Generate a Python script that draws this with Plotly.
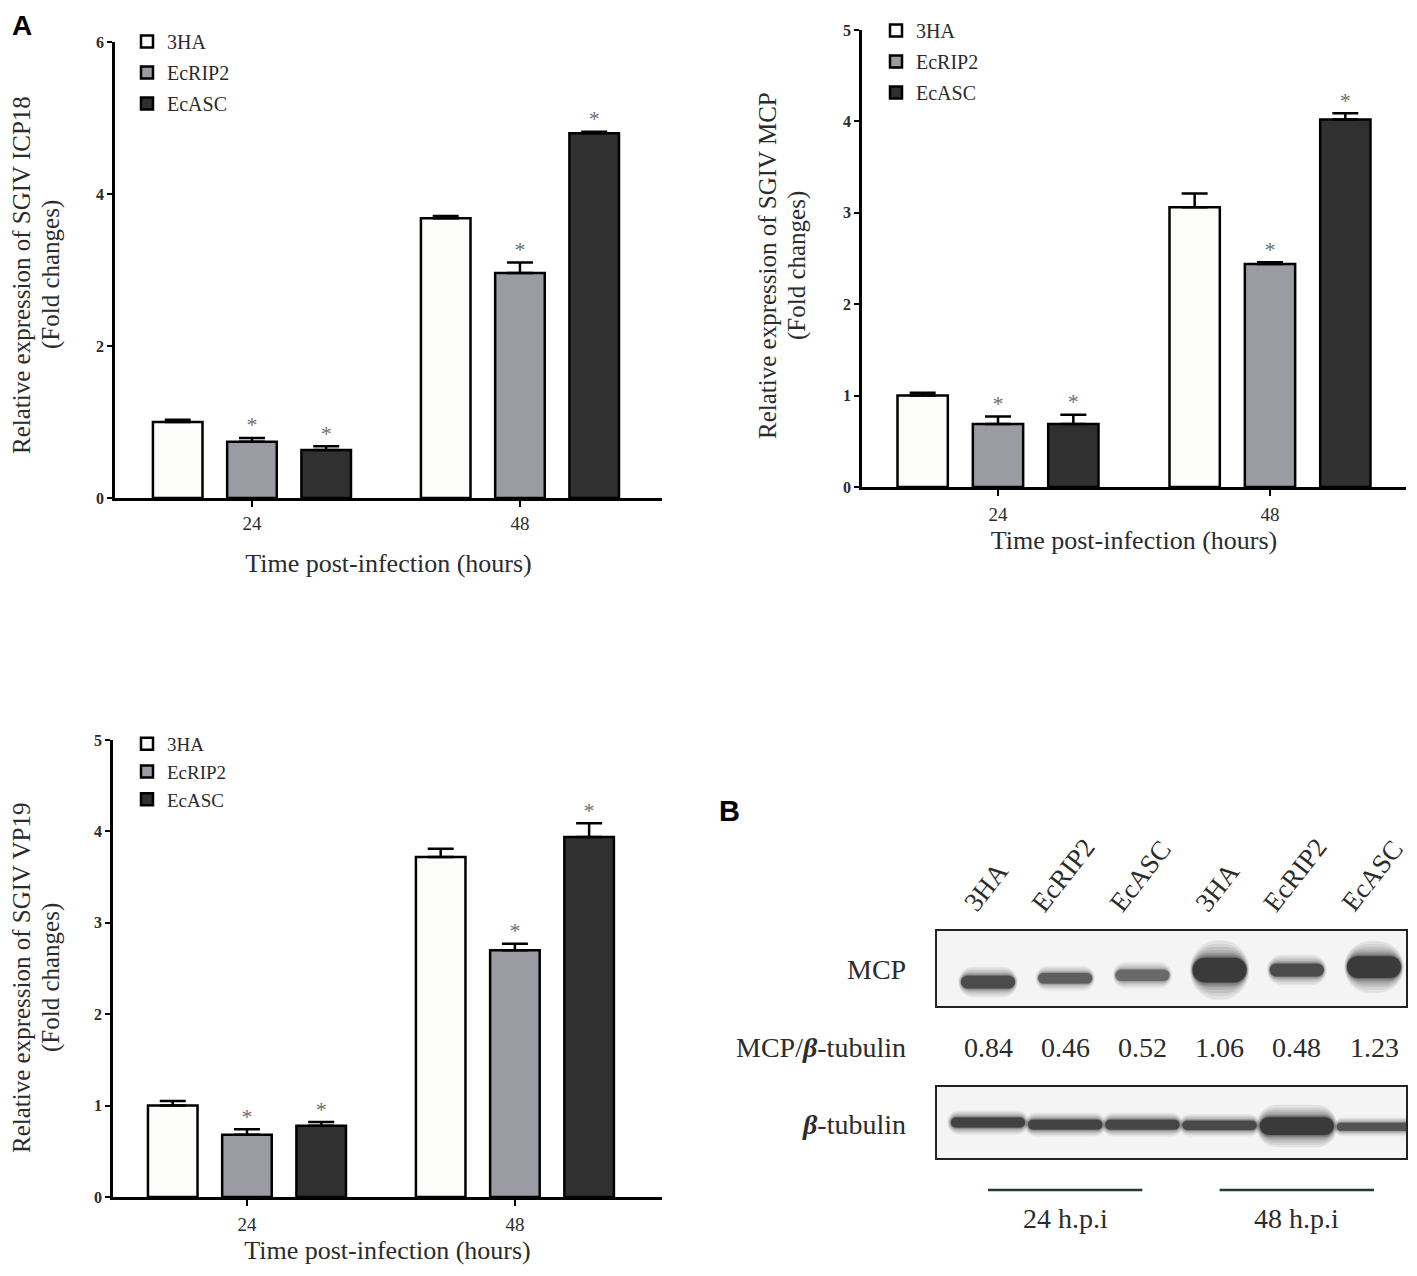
import plotly.graph_objects as go

# page body keeps an 8px margin, so the figure is shifted by OFF pixels
OFF = 8
FW, FH = 1417 - 2 * OFF, 1276 - 2 * OFF

groups = ["24", "48"]
series = ["3HA", "EcRIP2", "EcASC"]
bar_colors = {"3HA": "#fcfcfa", "EcRIP2": "#9a9ba3", "EcASC": "#303030"}

# ICP18 panel
icp18_mean = {"3HA": [1.00, 3.68], "EcRIP2": [0.74, 2.96], "EcASC": [0.63, 4.80]}
icp18_err = {"3HA": [0.03, 0.03], "EcRIP2": [0.05, 0.14], "EcASC": [0.05, 0.02]}
# MCP panel
mcp_mean = {"3HA": [1.00, 3.06], "EcRIP2": [0.69, 2.44], "EcASC": [0.69, 4.02]}
mcp_err = {"3HA": [0.03, 0.15], "EcRIP2": [0.08, 0.02], "EcASC": [0.10, 0.07]}
# VP19 panel
vp19_mean = {"3HA": [1.00, 3.72], "EcRIP2": [0.68, 2.70], "EcASC": [0.78, 3.94]}
vp19_err = {"3HA": [0.05, 0.09], "EcRIP2": [0.06, 0.07], "EcASC": [0.04, 0.15]}
# significance marks (*)
signif = {"3HA": [False, False], "EcRIP2": [True, True], "EcASC": [True, True]}

# western blot (panel B)
lanes = ["3HA", "EcRIP2", "EcASC", "3HA", "EcRIP2", "EcASC"]
mcp_ratio = [0.84, 0.46, 0.52, 1.06, 0.48, 1.23]
mcp_band_dark = [0.85, 0.70, 0.62, 1.00, 0.85, 1.00]
mcp_band_mid = [0.32, 0.37, 0.41, 0.48, 0.48, 0.52]
mcp_band_h = [0.17, 0.14, 0.15, 0.33, 0.17, 0.29]
tub_band_dark = [0.92, 0.92, 0.90, 0.86, 1.00, 0.78]
tub_band_mid = [0.50, 0.47, 0.47, 0.46, 0.45, 0.44]
tub_band_h = [0.14, 0.14, 0.14, 0.13, 0.25, 0.11]
hpi_groups = [("24 h.p.i", [0, 1, 2]), ("48 h.p.i", [3, 4, 5])]

ytitles = [
    ("Relative expression of SGIV ICP18", "(Fold changes)", 21, 51, 275),
    ("Relative expression of SGIV MCP", "(Fold changes)", 768, 797, 266),
    ("Relative expression of SGIV VP19", "(Fold changes)", 21, 51, 978),
]

SERIF = "Liberation Serif"
TXT = "#2b2b2b"
slot = 0.277
bar_w = 0.185
RIGHT = 1406


def px_x(p):
    return (p - OFF) / FW


def px_y(p):
    return 1 - (p - OFF) / FH


fig = go.Figure()


def bar_panel(n, means, errs, legend):
    xa, ya = f"x{n}", f"y{n}"
    for i, s in enumerate(series):
        xs = [g + (i - 1) * slot for g in range(len(groups))]
        fig.add_trace(go.Bar(
            x=xs, y=means[s], width=bar_w, name=s,
            marker=dict(color=bar_colors[s], line=dict(color="black", width=2.5)),
            error_y=dict(type="data", array=errs[s], arrayminus=[0] * len(groups),
                         symmetric=False, color="black", thickness=2.5, width=13),
            xaxis=xa, yaxis=ya, legend=legend, legendgroup=f"{n}{s}",
        ))
        sx = [x for x, f in zip(xs, signif[s]) if f]
        sy = [m + e for m, e, f in zip(means[s], errs[s], signif[s]) if f]
        if sx:
            fig.add_trace(go.Scatter(
                x=sx, y=sy, mode="text", text=["*"] * len(sx), textposition="top center",
                textfont=dict(family=SERIF, size=22, color="#6e6e6e"),
                xaxis=xa, yaxis=ya, showlegend=False, hoverinfo="skip",
            ))


bar_panel(1, icp18_mean, icp18_err, "legend")
bar_panel(2, mcp_mean, mcp_err, "legend2")
bar_panel(3, vp19_mean, vp19_err, "legend3")


def bands(n, mids, hs, darks, width):
    xs = list(range(len(lanes)))
    # many faint halo layers then the dark core, to mimic a blurred blot band
    layers = [(2.4, 0.07, 1.10), (2.1, 0.07, 1.08), (1.85, 0.08, 1.06), (1.6, 0.09, 1.05),
              (1.4, 0.11, 1.04), (1.25, 0.14, 1.02), (1.1, 0.2, 1.01), (1.0, 0.45, 1.0)]
    for scale, alpha, wscale in layers:
        h = [v * scale for v in hs]
        fig.add_trace(go.Bar(
            x=xs, y=h, base=[m - v / 2 for m, v in zip(mids, h)], width=width * wscale,
            marker=dict(color=[f"rgba(0,0,0,{alpha * d:.3f})" for d in darks],
                        line=dict(width=0), cornerradius="48%"),
            xaxis=f"x{n}", yaxis=f"y{n}", showlegend=False, hoverinfo="skip",
        ))


bands(4, mcp_band_mid, mcp_band_h, mcp_band_dark, 0.70)
bands(5, tub_band_mid, tub_band_h, tub_band_dark, 0.96)

axis_font = dict(family=SERIF, size=26, color=TXT)


def xax(dom, rng, anchor, standoff, lab_off):
    return dict(domain=dom, range=rng, anchor=anchor, tickvals=[0, 1], ticktext=groups,
                showline=True, linecolor="black", linewidth=2.5, ticks="outside", ticklen=6,
                tickwidth=2, tickcolor="black", ticklabelstandoff=lab_off, showgrid=False,
                zeroline=False, automargin=False,
                tickfont=dict(family=SERIF, size=19, color=TXT),
                title=dict(text="Time post-infection (hours)", font=axis_font, standoff=standoff))


def yax(dom, ymax, anchor):
    return dict(domain=dom, range=[0, ymax], tickvals=list(range(0, ymax + 1, 2 if ymax == 6 else 1)),
                showline=True, linecolor="black", linewidth=2.5, ticks="outside", ticklen=5,
                tickwidth=2, tickcolor="black", showgrid=False, zeroline=False, anchor=anchor,
                automargin=False,
                tickfont=dict(family=SERIF, size=16, color=TXT, weight="bold"))


# lane 0 sits at 988 px, 77 px per lane
blot_x = dict(range=[(937 - 988) / 77.2, (RIGHT - 988) / 77.2], showline=True, mirror=True,
              linecolor="#222", linewidth=2, showticklabels=False, ticks="", showgrid=False,
              zeroline=False, automargin=False, domain=[px_x(937), px_x(RIGHT)])
blot_y = dict(range=[0, 1], showline=True, mirror=True, linecolor="#222", linewidth=2,
              showticklabels=False, ticks="", showgrid=False, zeroline=False, automargin=False)

leg = dict(font=dict(family=SERIF, size=20, color=TXT), bgcolor="rgba(0,0,0,0)",
           xanchor="left", yanchor="top", tracegroupgap=2, itemwidth=30)

fig.update_layout(
    width=FW, height=FH, margin=dict(l=0, r=0, t=0, b=0, pad=0),
    paper_bgcolor="white", plot_bgcolor="white", barmode="overlay", showlegend=True,
    xaxis=xax([px_x(115), px_x(662)], [-0.511, 1.53], "y", 22, 0),
    yaxis=yax([px_y(498), px_y(42)], 6, "x"),
    xaxis2=xax([px_x(862), px_x(RIGHT)], [-0.5, (RIGHT - 998) / 272], "y2", 8, 2),
    yaxis2=yax([px_y(487), px_y(30)], 5, "x2"),
    xaxis3=xax([px_x(113), px_x(662)], [-0.5, 1.549], "y3", 8, 2),
    yaxis3=yax([px_y(1197), px_y(740)], 5, "x3"),
    xaxis4=dict(blot_x, anchor="y4"),
    yaxis4=dict(blot_y, domain=[px_y(1006), px_y(931)], anchor="x4"),
    xaxis5=dict(blot_x, anchor="y5", matches="x4"),
    yaxis5=dict(blot_y, domain=[px_y(1158), px_y(1087)], anchor="x5"),
    legend=dict(leg, x=px_x(127), y=px_y(22)),
    legend2=dict(leg, x=px_x(876), y=px_y(11)),
    legend3=dict(leg, x=px_x(127), y=px_y(725), tracegroupgap=0, font=dict(family=SERIF, size=19, color=TXT)),
)

# blot background
for n in (4, 5):
    fig.add_shape(type="rect", xref=f"x{n} domain", yref=f"y{n} domain", x0=0, x1=1, y0=0, y1=1,
                  fillcolor="#f4f4f4", line=dict(width=0), layer="below")

ann = []
for line1, line2, x1, x2, yc in ytitles:
    for txt, xx in [(line1, x1), (line2, x2)]:
        ann.append(dict(text=txt, x=px_x(xx), y=px_y(yc), xref="paper", yref="paper",
                        textangle=-90, xanchor="center", yanchor="middle", showarrow=False,
                        font=dict(family=SERIF, size=25, color=TXT)))
ann.append(dict(text="<b>A</b>", x=px_x(10), y=px_y(8), xref="paper", yref="paper",
                xanchor="left", yanchor="top", showarrow=False,
                font=dict(family="Liberation Sans", size=28, color="black")))
ann.append(dict(text="<b>B</b>", x=px_x(717), y=px_y(793), xref="paper", yref="paper",
                xanchor="left", yanchor="top", showarrow=False,
                font=dict(family="Liberation Sans", size=29, color="black")))
for i, name in enumerate(lanes):
    ann.append(dict(text=name, x=i, y=px_y(920), xref="x4", yref="paper", textangle=-52,
                    xanchor="center", yanchor="bottom", xshift=-2, showarrow=False,
                    font=dict(family=SERIF, size=27, color=TXT)))
    ann.append(dict(text=f"{mcp_ratio[i]:.2f}", x=i, y=px_y(1047), xref="x4", yref="paper",
                    xanchor="center", yanchor="middle", showarrow=False,
                    font=dict(family=SERIF, size=28, color=TXT)))
for txt, yy in [("MCP", 970), ("MCP/<b><i>β</i></b>-tubulin", 1047), ("<b><i>β</i></b>-tubulin", 1124)]:
    ann.append(dict(text=txt, x=px_x(908), y=px_y(yy), xref="paper", yref="paper",
                    xanchor="right", yanchor="middle", showarrow=False,
                    font=dict(family=SERIF, size=28, color=TXT)))
for label, idx in hpi_groups:
    fig.add_shape(type="line", xref="x4", yref="paper", x0=idx[0], x1=idx[-1],
                  y0=px_y(1190), y1=px_y(1190), line=dict(color="#1f3d3a", width=2.5))
    ann.append(dict(text=label, x=sum(idx) / len(idx), y=px_y(1218), xref="x4", yref="paper",
                    xanchor="center", yanchor="middle", showarrow=False,
                    font=dict(family=SERIF, size=28, color=TXT)))

fig.update_layout(annotations=ann)
fig.write_html("out.html")
